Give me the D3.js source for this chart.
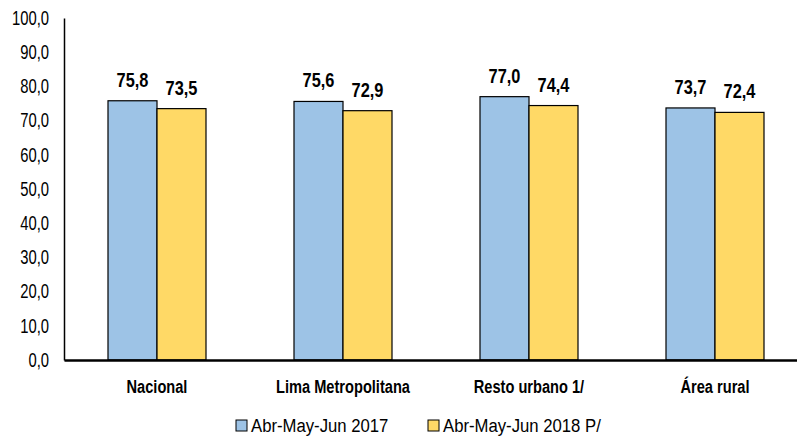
<!DOCTYPE html>
<html><head><meta charset="utf-8">
<script src="https://cdn.jsdelivr.net/npm/d3@7"></script>
<style>
body{margin:0;background:#fff;}
text{font-family:"Liberation Sans",Arial,sans-serif;fill:#000;}
</style></head>
<body><svg id="c" width="797" height="437"></svg>
<script>
const categories = ["Nacional","Lima Metropolitana","Resto urbano 1/","Área rural"];
const seriesNames = ["Abr-May-Jun 2017","Abr-May-Jun 2018 P/"];
const values2017 = [75.8,75.6,77.0,73.7];
const values2018 = [73.5,72.9,74.4,72.4];
const yTicks = [0,10,20,30,40,50,60,70,80,90,100];
const colors = ["#9DC3E6","#FFD966"];

const svg = d3.select("#c");
const x0 = 64, x1 = 808, yTop = 18, yBot = 360;
const x = d3.scaleBand().domain(categories).range([x0,x1]).paddingInner(0).paddingOuter(0);
const y = d3.scaleLinear().domain([0,100]).range([yBot,yTop]);
const barW = 49;
const fmt = v => v.toFixed(1).replace(".",",");

// condense a text element horizontally (narrow font look)
function condense(sel, sx){
  sel.each(function(){
    const t = d3.select(this);
    const xv = +(t.attr("x")||0);
    const yv = +(t.attr("y")||0);
    t.attr("x",0).attr("y",0)
     .attr("transform",`translate(${xv},${yv}) scale(${sx},1)`);
  });
}

// y axis
const yAxis = svg.append("g").attr("transform",`translate(${x0},0)`)
  .call(d3.axisLeft(y).tickValues(yTicks).tickSize(0).tickPadding(15).tickFormat(fmt));
yAxis.select(".domain").attr("stroke","#000").attr("stroke-width",1.5);
yAxis.selectAll("text").attr("font-size",19.5).attr("fill","#000")
  .style("font-family",'"Liberation Sans",Arial,sans-serif');
condense(yAxis.selectAll("text"),0.76);

const data = categories.map((c,i)=>({c, v:[values2017[i],values2018[i]]}));
const g = svg.append("g");
data.forEach(d=>{
  const cx = x(d.c) + x.bandwidth()/2;
  d.v.forEach((v,j)=>{
    const bx = cx + (j===0 ? -barW : 0);
    g.append("rect").attr("x",bx).attr("y",y(v)).attr("width",barW).attr("height",y(0)-y(v))
      .attr("fill",colors[j]).attr("stroke","#000").attr("stroke-width",1.2);
    const t = g.append("text").attr("x",bx+barW/2).attr("y",y(v)-14).attr("text-anchor","middle")
      .attr("font-size",19.5).attr("font-weight","bold").text(fmt(v));
    condense(t,0.84);
  });
});

// x axis
const xAxis = svg.append("g").attr("transform",`translate(0,${yBot})`)
  .call(d3.axisBottom(x).tickSize(0).tickPadding(20));
xAxis.select(".domain").attr("stroke","#000").attr("stroke-width",2.5);
xAxis.selectAll("text").attr("font-size",18.5).attr("font-weight","bold").attr("fill","#000")
  .style("font-family",'"Liberation Sans",Arial,sans-serif');
condense(xAxis.selectAll("text"),0.79);

// legend
const legX = [236, 428];
seriesNames.forEach((s,i)=>{
  svg.append("rect").attr("x",legX[i]).attr("y",420).attr("width",11).attr("height",11)
    .attr("fill",colors[i]).attr("stroke","#000").attr("stroke-width",1);
  const t = svg.append("text").attr("x",legX[i]+15).attr("y",432).attr("font-size",19).text(s);
  condense(t,0.88);
});
</script></body></html>
